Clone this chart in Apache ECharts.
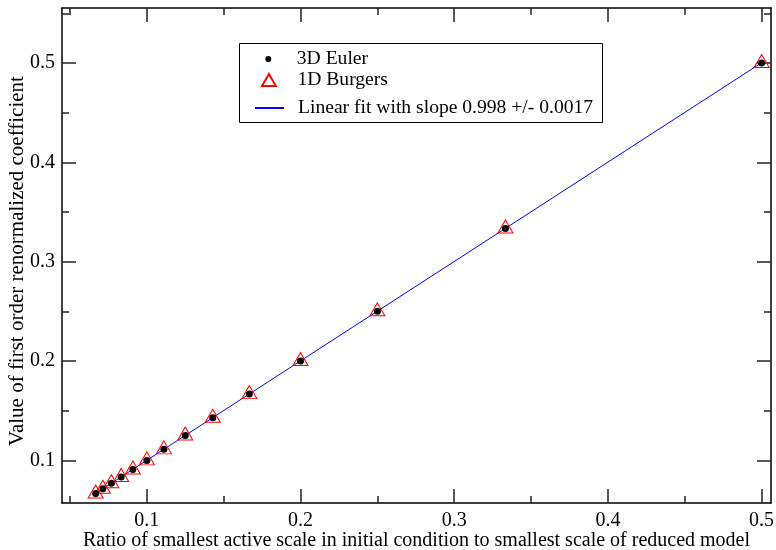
<!DOCTYPE html>
<html>
<head>
<meta charset="utf-8">
<script src="https://cdn.jsdelivr.net/npm/echarts@6/dist/echarts.min.js"></script>
<style>
  html, body { margin: 0; padding: 0; background: #fff; }
  #chart { width: 776px; height: 550px; }
</style>
</head>
<body>
<div id="chart"></div>
<script>
// Ratio of smallest active scale to smallest scale of the reduced model (1/n)
const ratios = [0.5, 0.3333, 0.25, 0.2, 0.1667, 0.1429, 0.125, 0.1111, 0.1, 0.0909, 0.0833, 0.0769, 0.0714, 0.0667];
// First order renormalized coefficient for each model
const eulerCoef = [0.5, 0.3333, 0.25, 0.2, 0.1667, 0.1429, 0.125, 0.1111, 0.1, 0.0909, 0.0833, 0.0769, 0.0714, 0.0667];
const burgersCoef = [0.5, 0.3333, 0.25, 0.2, 0.1667, 0.1429, 0.125, 0.1111, 0.1, 0.0909, 0.0833, 0.0769, 0.0714, 0.0667];
// End points of the linear fit
const fitX = [0.0667, 0.5];
const fitY = [0.0668, 0.5002];
// Tick positions
const xMajorTicks = [0.1, 0.2, 0.3, 0.4, 0.5];
const xMinorTicks = [0.05, 0.15, 0.25, 0.35, 0.45];
const yMajorTicks = [0.1, 0.2, 0.3, 0.4, 0.5];
const yMinorTicks = [0.15, 0.25, 0.35, 0.45, 0.55];

const serif = '"Liberation Serif", "DejaVu Serif", serif';
const X_MIN = 0.0448, X_MAX = 0.5061;
const Y_MIN = 0.0571, Y_MAX = 0.5553;

function frameAxis(pos, min, max, ticks, len, labels, line) {
  return {
    type: 'value',
    position: pos,
    min: min,
    max: max,
    axisLine: { show: line, onZero: false, lineStyle: { color: '#000', width: 1.5 } },
    axisTick: { show: true, inside: true, length: len, customValues: ticks,
                lineStyle: { color: '#222', width: 1.5 } },
    axisLabel: { show: labels, customValues: ticks, color: '#000', fontSize: 20,
                 fontFamily: serif, margin: 8 },
    splitLine: { show: false },
    minorTick: { show: false }
  };
}

const xAxes = [
  frameAxis('bottom', X_MIN, X_MAX, xMajorTicks, 14, true, true),
  frameAxis('bottom', X_MIN, X_MAX, xMinorTicks, 7, false, false),
  frameAxis('top', X_MIN, X_MAX, xMajorTicks, 14, false, true),
  frameAxis('top', X_MIN, X_MAX, xMinorTicks, 7, false, false)
];
Object.assign(xAxes[0], {
  name: 'Ratio of smallest active scale in initial condition to smallest scale of reduced model',
  nameLocation: 'middle', nameGap: 28, nameMoveOverlap: false,
  nameTextStyle: { color: '#000', fontSize: 20, fontFamily: serif }
});

const yAxes = [
  frameAxis('left', Y_MIN, Y_MAX, yMajorTicks, 14, true, true),
  frameAxis('left', Y_MIN, Y_MAX, yMinorTicks, 7, false, false),
  frameAxis('right', Y_MIN, Y_MAX, yMajorTicks, 14, false, true),
  frameAxis('right', Y_MIN, Y_MAX, yMinorTicks, 7, false, false)
];
yAxes[0].axisLabel.margin = 7;
Object.assign(yAxes[0], {
  name: 'Value of first order renormalized coefficient',
  nameLocation: 'middle', nameGap: 34, nameMoveOverlap: false,
  nameTextStyle: { color: '#000', fontSize: 21, fontFamily: serif, padding: [0, 11, 0, 0] }
});

function legendFor(name, left, top, h, icon) {
  const item = icon ? { name: name, icon: icon } : name;
  return {
    data: [item],
    left: left, top: top,
    padding: 0,
    itemWidth: 29, itemHeight: h,
    symbolKeepAspect: true,
    selectedMode: false,
    textStyle: { color: '#000', fontSize: 19.6, fontFamily: serif, padding: [0, 0, 0, 9] }
  };
}

const chart = echarts.init(document.getElementById('chart'));
chart.setOption({
  animation: false,
  backgroundColor: '#fff',
  grid: { left: 62, right: 5, top: 8, bottom: 47, containLabel: false, outerBoundsMode: 'none' },
  xAxis: xAxes,
  yAxis: yAxes,
  legend: [
    legendFor('3D Euler', 265.3, 49, 6),
    legendFor('1D Burgers', 261, 70, 12, 'path://M7.5,0L15,13L0,13Z'),
    legendFor('Linear fit with slope 0.998 +/- 0.0017', 254, 98, 2)
  ],
  graphic: [{
    type: 'rect', z: 100,
    shape: { x: 239.5, y: 43.5, width: 363, height: 79 },
    style: { fill: 'none', stroke: '#000', lineWidth: 1 }
  }],
  series: [
    {
      name: 'Linear fit with slope 0.998 +/- 0.0017',
      type: 'line', z: 1,
      xAxisIndex: 0, yAxisIndex: 0,
      data: fitX.map((x, i) => [x, fitY[i]]),
      symbol: 'none', showSymbol: false,
      lineStyle: { color: '#0000ff', width: 1 },
      itemStyle: { color: '#0000ff' }
    },
    {
      name: '1D Burgers',
      type: 'scatter', z: 2,
      xAxisIndex: 0, yAxisIndex: 0,
      data: ratios.map((x, i) => [x, burgersCoef[i]]),
      symbol: 'triangle', symbolSize: [15, 13], symbolOffset: [0, -2],
      itemStyle: { color: 'rgba(0,0,0,0)', borderColor: '#ff0000', borderWidth: 1, opacity: 1 }
    },
    {
      name: '3D Euler',
      type: 'scatter', z: 3,
      xAxisIndex: 0, yAxisIndex: 0,
      data: ratios.map((x, i) => [x, eulerCoef[i]]),
      symbol: 'circle', symbolSize: 7,
      itemStyle: { color: '#000', opacity: 1 }
    }
  ]
});
</script>
</body>
</html>
